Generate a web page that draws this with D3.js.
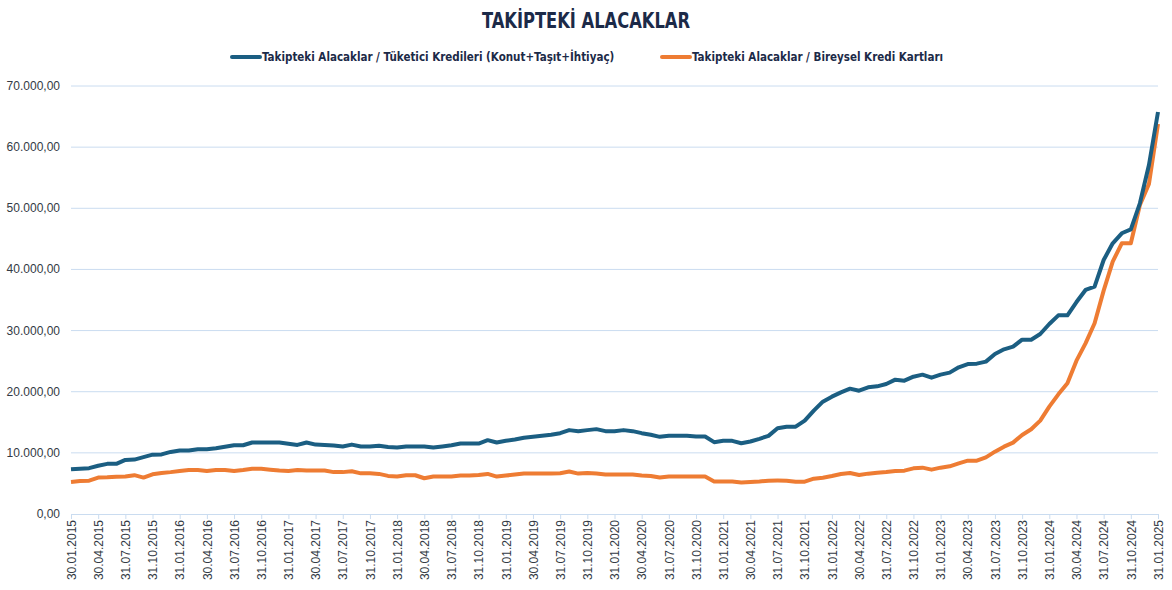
<!DOCTYPE html>
<html><head><meta charset="utf-8">
<script src="https://cdn.jsdelivr.net/npm/d3@7"></script>
<style>
body{margin:0;background:#fff;}
svg{display:block;}
</style></head>
<body>
<svg id="chart" width="1172" height="590"></svg>
<script>
const seriesNames = ["Takipteki Alacaklar / Tüketici Kredileri (Konut+Taşıt+İhtiyaç)", "Takipteki Alacaklar / Bireysel Kredi Kartları"];
const tickLabels = ["30.01.2015","30.04.2015","31.07.2015","31.10.2015","31.01.2016","30.04.2016","31.07.2016","31.10.2016","31.01.2017","30.04.2017","31.07.2017","31.10.2017","31.01.2018","30.04.2018","31.07.2018","31.10.2018","31.01.2019","30.04.2019","31.07.2019","31.10.2019","31.01.2020","30.04.2020","31.07.2020","31.10.2020","31.01.2021","30.04.2021","31.07.2021","31.10.2021","31.01.2022","30.04.2022","31.07.2022","31.10.2022","31.01.2023","30.04.2023","31.07.2023","31.10.2023","31.01.2024","30.04.2024","31.07.2024","31.10.2024","31.01.2025"];
const yTicks = [0,10000,20000,30000,40000,50000,60000,70000];
const consumer = [7300,7400,7500,7900,8200,8200,8850,8900,9300,9700,9750,10150,10400,10400,10600,10600,10750,11000,11250,11250,11700,11700,11700,11700,11500,11300,11700,11350,11300,11200,11050,11350,11050,11050,11150,10950,10880,11050,11050,11050,10870,11050,11250,11530,11530,11530,12080,11700,11970,12190,12460,12620,12790,12950,13220,13720,13550,13720,13880,13550,13550,13720,13550,13220,12950,12620,12790,12790,12790,12680,12680,11750,11970,11970,11580,11860,12300,12780,14020,14280,14280,15270,16900,18370,19190,19900,20500,20170,20720,20880,21260,21970,21810,22460,22790,22300,22790,23120,23990,24530,24590,24920,26170,26930,27370,28510,28510,29440,31080,32490,32490,34670,36640,37180,41540,44270,45910,46560,50810,57080,65750];
const cards = [5250,5400,5450,5950,6000,6100,6150,6350,5950,6500,6700,6850,7050,7200,7200,7050,7200,7200,7050,7200,7400,7400,7250,7100,7050,7200,7100,7100,7100,6850,6850,7000,6650,6650,6560,6230,6120,6340,6340,5850,6120,6120,6120,6280,6280,6390,6560,6120,6280,6450,6610,6610,6610,6610,6670,6940,6610,6720,6610,6450,6450,6450,6450,6280,6230,5960,6120,6120,6120,6120,6120,5300,5300,5300,5140,5250,5320,5450,5460,5450,5290,5290,5780,5940,6210,6540,6710,6380,6600,6760,6870,7030,7090,7470,7580,7250,7580,7800,8290,8720,8720,9270,10200,11010,11670,12920,13850,15270,17560,19570,21370,25080,27910,31190,36530,41270,44270,44270,50540,53970,63790];
const colors = ["#1b5e82","#ee7c33"];

const svg = d3.select("#chart");
const mLeft = 71, mRight = 1158, mTop = 86, mBottom = 514;
const n = consumer.length;
const x = d3.scaleLinear().domain([0, n-1]).range([mLeft, mRight]);
const y = d3.scaleLinear().domain([0, 70000]).range([mBottom, mTop]);
const fmt = v => d3.format(",.2f")(v).replace(/,/g,"X").replace(/\./g,",").replace(/X/g,".");

// grid
svg.append("g").selectAll("line").data(yTicks.filter(d=>d>0)).join("line")
  .attr("x1", mLeft).attr("x2", mRight)
  .attr("y1", d=>y(d)).attr("y2", d=>y(d))
  .attr("stroke", "#cadcf0").attr("stroke-width", 1);

// y labels
svg.append("g").selectAll("text").data(yTicks).join("text")
  .attr("x", 60).attr("y", d=>y(d)+4)
  .attr("text-anchor","end")
  .attr("font-family","Liberation Sans, Arial, sans-serif")
  .attr("font-size", 12).attr("fill","#333a44")
  .text(fmt);

// x axis
const xAxis = d3.axisBottom(x)
  .tickValues(d3.range(0, n, 3))
  .tickFormat((d,i)=>tickLabels[i])
  .tickSize(5);
const gx = svg.append("g").attr("transform", `translate(0,${mBottom})`).call(xAxis);
gx.select(".domain").attr("stroke","#cadcf0");
gx.selectAll(".tick line").attr("stroke","#cadcf0");
gx.selectAll(".tick text")
  .attr("font-family","Liberation Sans, Arial, sans-serif")
  .attr("font-size", 12).attr("fill","#333a44")
  .attr("transform","rotate(-90)")
  .attr("text-anchor","end")
  .attr("x", -6).attr("y", 0).attr("dy","0.35em");

// lines
const line = d3.line().x((d,i)=>x(i)).y(d=>y(d)).curve(d3.curveLinear);
[cards, consumer].forEach((s, k) => {
  svg.append("path").datum(s)
    .attr("fill","none")
    .attr("stroke", k===0 ? colors[1] : colors[0])
    .attr("stroke-width", 4)
    .attr("stroke-linejoin","round")
    .attr("d", line);
});

// title
svg.append("text").attr("x", 586).attr("y", 28)
  .attr("text-anchor","middle")
  .attr("font-family","DejaVu Sans Condensed, Roboto, sans-serif")
  .attr("font-weight","bold").attr("font-size", 21)
  .attr("textLength", 208).attr("lengthAdjust","spacingAndGlyphs")
  .attr("fill","#1c2a48")
  .text("TAKİPTEKİ ALACAKLAR");

// legend
const legX = [232, 662];
seriesNames.forEach((nm, k) => {
  const g = svg.append("g");
  g.append("line").attr("x1", legX[k]).attr("x2", legX[k]+28)
    .attr("y1", 57).attr("y2", 57)
    .attr("stroke", colors[k]).attr("stroke-width", 4).attr("stroke-linecap","round");
  g.append("text").attr("x", legX[k]+30).attr("y", 61)
    .attr("font-family","DejaVu Sans Condensed, Roboto, sans-serif")
    .attr("font-weight","bold").attr("font-size", 11.5)
    .attr("fill","#1c2a48")
    .text(nm);
});
</script>
</body></html>
